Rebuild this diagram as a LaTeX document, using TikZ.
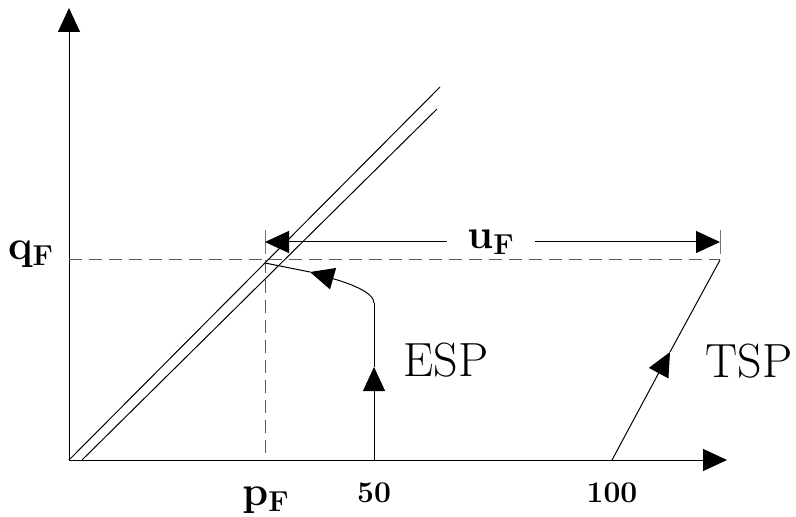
\documentclass[tikz,border=0pt]{standalone}
\usetikzlibrary{arrows.meta}

\begin{document}
\begin{tikzpicture}[x=0.5pt,y=-0.5pt,line width=0.5pt,
    every node/.style={font=\fontsize{22}{26}\selectfont},
    tip/.style={-{Triangle[length=12pt,width=11pt]}},
    guide/.style={dash pattern=on 6.5pt off 3.5pt,black!65},
    tick/.style={black!55},
    num/.style={font=\fontsize{15}{18}\selectfont\bfseries},
    curvename/.style={font=\fontsize{24}{28}\selectfont}]
                \useasboundingbox (0,0) rectangle (796,517);
                % axes
                \coordinate (O) at (69,460);
                \coordinate (ytop) at (69,8);
                \coordinate (xend) at (727,460);
                \draw[tip] (O) -- (ytop);
                \draw[tip] (O) -- (xend);
                % the two 45 degree lines
                \coordinate (a1) at (440,87);
                \coordinate (b0) at (82,460);
                \coordinate (b1) at (437,109);
                \draw (O) -- (a1);
                \draw (b0) -- (b1);
                % fixed point F
                \coordinate (F) at (265,260);
                \coordinate (Fy) at (69,260);
                \coordinate (Fx) at (265,460);
                \coordinate (Fr) at (720,260);
                \draw[guide] (Fy) -- (Fr);
                \draw[guide] (F) -- (Fx);
                \node (qF) at (31,254) {$\mathbf{q_F}$};
                \node (pF) at (266,500) {$\mathbf{p_F}$};
                \node[num] (n50) at (374,493) {50};
                \node[num] (n100) at (612,493) {100};
                % u_F
                \coordinate (dl) at (265,242);
                \coordinate (dr) at (720,242);
                \coordinate (dlt) at (265,230);
                \coordinate (dlb) at (265,254);
                \coordinate (drt) at (720,230);
                \coordinate (drb) at (720,254);
                \draw[tick] (dlt) -- (dlb);
                \draw[tick] (drt) -- (drb);
                \node[inner xsep=10pt] (uF) at (491,242) {$\mathbf{u_F}$};
                \draw[tip] (uF) -- (dl);
                \draw[tip] (uF) -- (dr);
                % ESP
                \coordinate (e0) at (374,460);
                \coordinate (e1) at (374,367);
                \coordinate (e2) at (374,303);
                \coordinate (e3) at (310,272);
                \coordinate (e4) at (265,263);
                \draw[tip] (e0) -- (e1);
                \draw (e1) -- (e2);
                \draw[tip] (e2) .. controls (374,292) and (348,283) .. (e3);
                \draw (e3) -- (e4);
                \node[curvename] (esp) at (446,360) {ESP};
                % TSP
                \coordinate (t0) at (612,460);
                \coordinate (t1) at (670,352);
                \draw[tip] (t0) -- (t1);
                \draw (t1) -- (Fr);
                \node[curvename] (tsp) at (749,361) {TSP};
\end{tikzpicture}
\end{document}
